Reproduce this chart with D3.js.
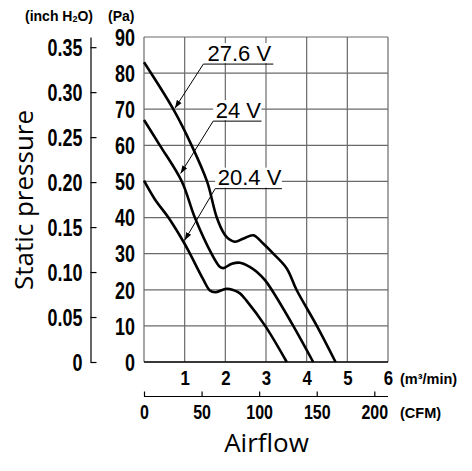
<!DOCTYPE html>
<html>
<head>
<meta charset="utf-8">
<script src="https://cdn.jsdelivr.net/npm/d3@7"></script>
<style>
  body { margin: 0; background: #fff; }
  .tick text { font-family: "Liberation Sans", Arial, sans-serif; font-weight: bold; fill: #000; }
</style>
</head>
<body>
<div id="chart"></div>
<script>
"use strict";

// airflow in m3/min, static pressure in Pa
var voltages = ["27.6 V", "24 V", "20.4 V"];
var flow276 = [0, 0.72, 1.17, 1.55, 1.79, 1.97, 2.07, 2.24, 2.45, 2.69, 2.93, 3.18, 3.51, 3.75, 4.25, 4.71];
var pres276 = [83, 70, 60, 50, 40, 35.5, 34.2, 33.3, 34.2, 35.1, 32.8, 30, 25.9, 20, 10, 0];
var flow240 = [0, 0.39, 0.93, 1.25, 1.66, 1.87, 1.95, 2.16, 2.36, 2.61, 2.77, 2.98, 3.14, 3.67, 4.16];
var pres240 = [67, 60, 50, 40, 30, 26.3, 26, 27.2, 27.5, 26.3, 25, 22.6, 20, 10, 0];
var flow204 = [0, 0.27, 0.6, 0.97, 1.13, 1.45, 1.62, 1.75, 2.03, 2.2, 2.36, 2.52, 2.98, 3.51];
var pres204 = [50.2, 45, 40, 33.3, 30, 23, 19.8, 19.3, 20.3, 19.9, 19, 17, 10, 0];

var paTicks = [0, 10, 20, 30, 40, 50, 60, 70, 80, 90];
var inchTicks = [0, 0.05, 0.10, 0.15, 0.20, 0.25, 0.30, 0.35];
var m3Ticks = [1, 2, 3, 4, 5, 6];
var cfmTicks = [0, 50, 100, 150, 200];

var PA_PER_INCH = 249.089;
var CFM_PER_M3 = 35.3147;

var width = 472, height = 471;
var svg = d3.select("#chart").append("svg")
    .attr("width", width)
    .attr("height", height);

var x = d3.scaleLinear().domain([0, 6]).range([144, 388]);
var y = d3.scaleLinear().domain([0, 90]).range([362, 37]);
var yIn = d3.scaleLinear().domain([0, 90 / PA_PER_INCH]).range([362, 37]);
var xCfm = d3.scaleLinear().domain([0, 6 * CFM_PER_M3]).range([144, 388]);

// squeeze tick text horizontally (no narrow font installed)
function condense(sel, k) {
  sel.each(function() {
    var t = d3.select(this);
    var x0 = +t.attr("x") || 0;
    t.attr("x", x0 / k).attr("transform", "scale(" + k + ",1)");
  });
}

// grid
var grid = svg.append("g").attr("stroke", "#6a6a6a").attr("stroke-width", 1.2);
grid.selectAll("line.v").data(d3.range(0, 7)).enter().append("line")
    .attr("x1", function(d) { return x(d); }).attr("x2", function(d) { return x(d); })
    .attr("y1", y(90)).attr("y2", y(0));
grid.selectAll("line.h").data(paTicks).enter().append("line")
    .attr("x1", x(0)).attr("x2", x(6))
    .attr("y1", function(d) { return y(d); }).attr("y2", function(d) { return y(d); });
svg.append("line").attr("x1", x(0)).attr("x2", x(6)).attr("y1", y(0)).attr("y2", y(0))
    .attr("stroke", "#111").attr("stroke-width", 1.4);

// Pa axis labels
var paAxis = svg.append("g")
    .attr("transform", "translate(" + x(0) + ",0)")
    .call(d3.axisLeft(y).tickValues(paTicks).tickSize(0).tickPadding(9).tickFormat(d3.format("d")));
paAxis.select(".domain").remove();
paAxis.selectAll("text").attr("font-size", 23).attr("dy", "0.36em").call(condense, 0.78);

// inch H2O axis
var inAxis = svg.append("g")
    .attr("transform", "translate(90.5,0)")
    .call(d3.axisLeft(yIn).tickValues(inchTicks).tickSizeInner(-6).tickSizeOuter(0).tickPadding(8)
      .tickFormat(function(d) { return d === 0 ? "0" : d3.format(".2f")(d); }));
inAxis.selectAll("line, path").attr("stroke", "#000").attr("stroke-width", 1.2);
inAxis.selectAll("text").attr("font-size", 23).attr("dy", "0.36em").call(condense, 0.78);

// m3/min axis labels
var m3Axis = svg.append("g")
    .attr("transform", "translate(0," + y(0) + ")")
    .call(d3.axisBottom(x).tickValues(m3Ticks).tickSize(0).tickPadding(8).tickFormat(d3.format("d")));
m3Axis.select(".domain").remove();
m3Axis.selectAll("text").attr("font-size", 21).attr("dy", "0.71em").call(condense, 0.8);

// CFM axis
var cfmAxis = svg.append("g")
    .attr("transform", "translate(0,396.5)")
    .call(d3.axisTop(xCfm).tickValues(cfmTicks).tickSizeInner(5).tickSizeOuter(0).tickFormat(d3.format("d")));
cfmAxis.select(".domain").attr("d", "M" + x(0) + ",0H" + x(6));
cfmAxis.selectAll("line, path").attr("stroke", "#000").attr("stroke-width", 1.2);
cfmAxis.selectAll("text").attr("font-size", 20).attr("y", 23).attr("dy", 0).call(condense, 0.8);

// unit labels
var unitFont = "'Liberation Sans', Arial, sans-serif";
var inchLbl = svg.append("text").attr("x", 25).attr("y", 21)
    .attr("font-family", unitFont).attr("font-weight", "bold").attr("font-size", 14);
inchLbl.append("tspan").text("(inch H");
inchLbl.append("tspan").attr("font-size", 9).attr("dy", 1).text("2");
inchLbl.append("tspan").attr("dy", -1).text("O)");
svg.append("text").attr("x", 108).attr("y", 21)
    .attr("font-family", unitFont).attr("font-weight", "bold").attr("font-size", 14).text("(Pa)");
svg.append("text").attr("x", 400).attr("y", 384)
    .attr("font-family", unitFont).attr("font-weight", "bold").attr("font-size", 14.5).text("(m³/min)");
svg.append("text").attr("x", 400).attr("y", 418)
    .attr("font-family", unitFont).attr("font-weight", "bold").attr("font-size", 14.5).text("(CFM)");

// titles
svg.append("text")
    .attr("transform", "translate(33,200) rotate(-90)")
    .attr("text-anchor", "middle")
    .attr("font-family", "'Open Sans', sans-serif").attr("font-size", 26)
    .text("Static pressure");
svg.append("text")
    .attr("x", 266.5).attr("y", 452)
    .attr("text-anchor", "middle")
    .attr("font-family", "'Open Sans', sans-serif").attr("font-size", 26)
    .text("Airflow");

// curves
var series = [
  { flow: flow276, pres: pres276 },
  { flow: flow240, pres: pres240 },
  { flow: flow204, pres: pres204 }
];
var line = d3.line()
    .x(function(d) { return x(d[0]); })
    .y(function(d) { return y(d[1]); })
    .curve(d3.curveCatmullRom.alpha(0.5));
svg.selectAll("path.curve").data(series).enter().append("path")
    .attr("class", "curve")
    .attr("fill", "none")
    .attr("stroke", "#000")
    .attr("stroke-width", 2.6)
    .attr("d", function(s) { return line(d3.zip(s.flow, s.pres)); });

// labels with leaders: [tip flow, tip pres, underline left, underline right, underline pres]
var notes = [
  [0.76, 70.3, 1.46, 3.18, 82.5],
  [0.90, 52.2, 1.70, 2.89, 66.7],
  [1.00, 33.7, 1.75, 3.39, 48.0]
];
svg.append("defs").append("marker")
    .attr("id", "arr")
    .attr("viewBox", "0 0 10 10")
    .attr("refX", 10).attr("refY", 5)
    .attr("markerUnits", "userSpaceOnUse")
    .attr("markerWidth", 8).attr("markerHeight", 8)
    .attr("orient", "auto")
  .append("path").attr("d", "M0,1.5L10,5L0,8.5Z").attr("fill", "#000");

notes.forEach(function(n, i) {
  var ux = x(n[2]), uy = y(n[4]), ur = x(n[3]);
  svg.append("rect")
    .attr("x", ux).attr("y", uy - 21)
    .attr("width", ur - ux).attr("height", 20)
    .attr("fill", "#fff");
  svg.append("text")
    .attr("x", (ux + ur) / 2 + 1).attr("y", uy - 3.3)
    .attr("text-anchor", "middle")
    .attr("font-family", unitFont).attr("font-size", 22)
    .text(voltages[i]);
  svg.append("line")
    .attr("x1", ux).attr("x2", ur).attr("y1", uy).attr("y2", uy)
    .attr("stroke", "#000").attr("stroke-width", 1);
  svg.append("line")
    .attr("x1", ux).attr("y1", uy)
    .attr("x2", x(n[0])).attr("y2", y(n[1]))
    .attr("stroke", "#000").attr("stroke-width", 1)
    .attr("marker-end", "url(#arr)");
});
</script>
</body>
</html>
